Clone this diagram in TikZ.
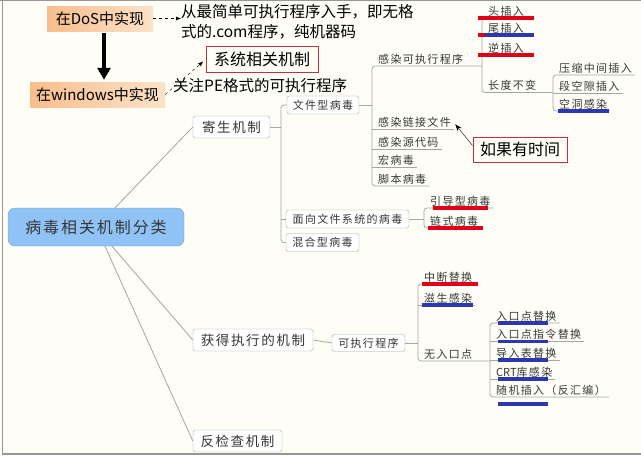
\documentclass[tikz,border=0pt]{standalone}
\usepackage{fontspec}
\usetikzlibrary{arrows.meta}
\newfontfamily\cjk{Noto Sans CJK SC}
\newfontfamily\cjkwide[LetterSpace=12]{Noto Sans CJK SC}
\definecolor{colBg}{RGB}{254,254,246}
\definecolor{colEdge}{RGB}{150,150,150}
\definecolor{colLine}{RGB}{165,165,165}
\definecolor{colText}{RGB}{55,55,55}
\definecolor{colRed}{RGB}{225,0,25}
\definecolor{colBlue}{RGB}{45,55,175}
\definecolor{colFrame}{RGB}{192,48,64}
\definecolor{colPeach}{RGB}{248,190,140}
\definecolor{colPeachLight}{RGB}{252,226,200}
\definecolor{colCentre}{RGB}{143,195,245}
\definecolor{colCentreEdge}{RGB}{110,160,215}

\begin{document}
\begin{tikzpicture}[x=1pt, y=-1pt,
    every node/.style={font=\cjk, text=black},
    branch/.style={draw=colLine, line width=0.8pt},
    corner/.style={branch, rounded corners=3pt},
    topic/.style={draw=colLine, fill=white, rounded corners=2.5pt, inner sep=0pt, minimum height=18pt,
        text=colText, font=\cjkwide\fontsize{11}{13}\selectfont},
    major/.style={topic, minimum height=22pt, font=\cjkwide\fontsize{13.5}{16}\selectfont},
    leaf/.style={anchor=south west, inner xsep=3pt, inner ysep=1.5pt, text=colText,
        font=\cjkwide\fontsize{11}{13}\selectfont},
    redbar/.style={draw=colRed, line width=3.5pt},
    bluebar/.style={draw=colBlue, line width=3.5pt},
    peach/.style={left color=colPeach, right color=colPeachLight, inner sep=0pt, minimum height=25pt,
        font=\cjk\fontsize{15}{18}\selectfont},
    memo/.style={draw=colFrame, line width=1pt, fill=colBg, inner sep=0pt, minimum height=26pt,
        font=\cjk\fontsize{16}{19}\selectfont},
    remark/.style={inner sep=0pt, align=left, font=\cjk\fontsize{15.5}{20}\selectfont},
    dasharrow/.style={dashed, thin, -{Latex[length=5pt,width=4pt]}},
]
    \useasboundingbox (0,0) rectangle (641,456);
    % background and frame
    \fill[colBg] (0,0) rectangle (641,456);
    \draw[colEdge, line width=1.2pt] (0,0.6) -- (641,0.6);
    \draw[colEdge, line width=1.2pt] (2.5,0) -- (2.5,454) -- (641,454);

    % DOS / windows
    \node[peach, minimum width=106pt] (dos) at (100,18.5) {在DoS中实现};
    \node[peach, minimum width=135pt] (win) at (97.5,94.5) {在windows中实现};
    \coordinate (drop) at (104,0);
    \draw[line width=4.5pt, -{Triangle[length=12pt,width=13pt]}, shorten <=2pt, shorten >=2pt]
        (dos.south -| drop) -- (win.north -| drop);
    \node[remark, anchor=west] (how) at (181,22) {从最简单可执行程序入手，即无格\\式的.com程序，纯机器码};
    \draw[dasharrow] (dos.east) -- (dos.east -| how.west);
    \node[memo, minimum width=112pt] (sys) at (262,59.5) {系统相关机制};
    \node[remark, anchor=west] (pe) at (173,86) {关注PE格式的可执行程序};
    \draw[dasharrow, shorten >=3pt] (win.east) -- (sys.west);

    % central topic
    \node[draw=colCentreEdge, fill=colCentre, rounded corners=7pt, minimum width=176pt, minimum height=38pt,
        text=colText, font=\cjkwide\fontsize{16}{19}\selectfont] (root) at (96,227) {病毒相关机制分类};
    \node[major, minimum width=77pt] (parasite) at (231.5,127) {寄生机制};
    \node[major, minimum width=120pt] (exec) at (253,340) {获得执行的机制};
    \node[major, minimum width=89pt] (anti) at (237.5,441) {反检查机制};
    \draw[branch] ([xshift=19pt]root.north) -- (parasite.west);
    \draw[branch] ([xshift=16pt]root.south) -- (exec.west);
    \draw[branch] ([xshift=9pt]root.south) -- (anti.west);

    % parasite branch
    \coordinate (b0) at (281,0);
    \node[topic, minimum width=72pt] (filev) at (323,105) {文件型病毒};
    \node[topic, minimum width=123pt] (fsv) at (347.5,219) {面向文件系统的病毒};
    \node[topic, minimum width=73pt] (mixv) at (322.5,242.5) {混合型病毒};
    \draw[branch] (parasite.east) -- (parasite.east -| b0);
    \draw[corner] (filev.west) -- (filev.west -| b0) -- (mixv.west -| b0) -- (mixv.west);
    \draw[branch] (fsv.west -| b0) -- (fsv.west);

    % file viruses
    \coordinate (b1) at (372,0);
    \coordinate (b2) at (482,0);
    \coordinate (b3) at (553,0);
    \node[leaf] (infexe) at (375,66) {感染可执行程序};
    \node[leaf] (inflink) at (375,129.5) {感染链接文件};
    \node[leaf] (infsrc) at (375,149) {感染源代码};
    \node[leaf] (macro) at (375,167.5) {宏病毒};
    \node[leaf] (script) at (375,186) {脚本病毒};
    \draw[branch] (filev.east) -- (filev.east -| b1);
    \draw[corner] (infexe.south -| b2) -- (infexe.south -| b1) -- (script.south -| b1) -- (script.south east);
    \foreach \n in {inflink,infsrc,macro}
        \draw[branch] (\n.south -| b1) -- (\n.south east);

    % insertion
    \node[leaf] (head) at (485,18) {头插入};
    \node[leaf] (tail) at (485,35) {尾插入};
    \node[leaf] (rev) at (485,55) {逆插入};
    \node[leaf] (samelen) at (485,92.5) {长度不变};
    \draw[corner] (head.south east) -- (head.south -| b2) -- (samelen.south -| b2) -- (samelen.south -| b3);
    \foreach \n in {tail,rev}
        \draw[branch] (\n.south -| b2) -- (\n.south east);
    \draw[redbar] (478,18) -- (534,18);
    \draw[redbar] (478,35) -- (485,35);
    \draw[bluebar] (485,35) -- (534,35);
    \draw[redbar] (478,55) -- (534,55);

    % same length
    \node[leaf] (compress) at (556,75) {压缩中间插入};
    \node[leaf] (gap) at (556,93) {段空隙插入};
    \node[leaf] (cave) at (556,111) {空洞感染};
    \draw[corner] (compress.south east) -- (compress.south -| b3) -- (cave.south -| b3) -- (cave.south east);
    \draw[branch] (gap.south -| b3) -- (gap.south east);
    \draw[bluebar] (558,111) -- (609,111);

    % memo on link files
    \node[memo, minimum width=94pt, minimum height=25pt] (later) at (520,149.5) {如果有时间};
    \draw[-{Stealth[length=7pt,width=5pt]}, thin, shorten >=2pt] ([yshift=4pt]later.west) -- (inflink.east);

    % file system viruses
    \coordinate (b4) at (424,0);
    \node[leaf] (boot) at (427,208) {引导型病毒};
    \node[leaf] (chain) at (427,228) {链式病毒};
    \draw[branch] (fsv.east) -- (fsv.east -| b4);
    \draw[corner] (boot.south east) -- (boot.south -| b4) -- (chain.south -| b4) -- (chain.south east);
    \draw[redbar] (433,208) -- (488,208);
    \draw[redbar] (428,228) -- (483,228);

    % execution branch
    \coordinate (b5) at (418,0);
    \coordinate (b6) at (490,0);
    \node[topic, minimum width=73pt, minimum height=17pt] (exefile) at (368.5,343) {可执行程序};
    \draw[branch] (exec.east) -- (exefile.west);
    \node[leaf] (intr) at (421,284) {中断替换};
    \node[leaf] (spawn) at (421,305) {滋生感染};
    \node[leaf] (epo) at (421,361) {无入口点};
    \draw[branch] (exefile.east) -- (exefile.east -| b5);
    \draw[corner] (intr.south east) -- (intr.south -| b5) -- (epo.south -| b5) -- (epo.south -| b6);
    \draw[branch] (spawn.south -| b5) -- (spawn.south east);
    \draw[redbar] (422,284) -- (478,284);
    \draw[bluebar] (422,305) -- (473,305);

    % entry point obscuring
    \node[leaf] (ep1) at (493,323) {入口点替换};
    \node[leaf] (ep2) at (493,341.5) {入口点指令替换};
    \node[leaf] (imp) at (493,360) {导入表替换};
    \node[leaf] (crt) at (493,379) {{\cjk CRT}库感染};
    \node[leaf] (rnd) at (493,397) {随机插入（反汇编）};
    \draw[corner] (ep1.south east) -- (ep1.south -| b6) -- (rnd.south -| b6) -- (rnd.south east);
    \foreach \n in {ep2,imp,crt}
        \draw[branch] (\n.south -| b6) -- (\n.south east);
    \foreach \y in {323,341.5,360,379,404}
        \draw[bluebar] (498,\y) -- (548,\y);
\end{tikzpicture}
\end{document}
